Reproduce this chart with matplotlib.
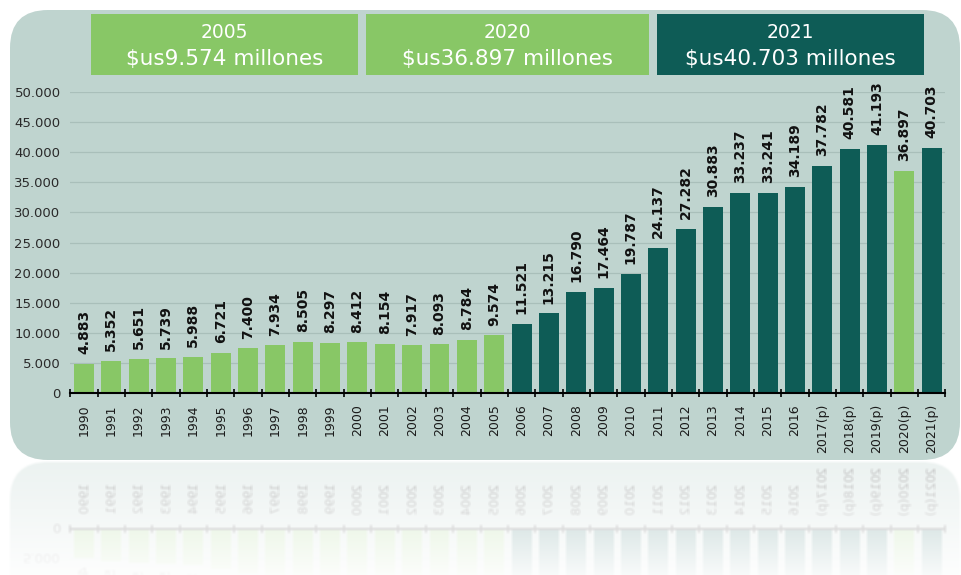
import matplotlib.pyplot as plt
import numpy as np
from matplotlib.patches import FancyBboxPatch, Rectangle
from matplotlib.ticker import FuncFormatter, MultipleLocator

plt.rcParams['font.family'] = ['DejaVu Sans']

# Exportaciones por año (millones de $us)
years = ["1990", "1991", "1992", "1993", "1994", "1995", "1996", "1997",
         "1998", "1999", "2000", "2001", "2002", "2003", "2004", "2005",
         "2006", "2007", "2008", "2009", "2010", "2011", "2012", "2013",
         "2014", "2015", "2016", "2017(p)", "2018(p)", "2019(p)", "2020(p)",
         "2021(p)"]
values = [4883, 5352, 5651, 5739, 5988, 6721, 7400, 7934,
          8505, 8297, 8412, 8154, 7917, 8093, 8784, 9574,
          11521, 13215, 16790, 17464, 19787, 24137, 27282, 30883,
          33237, 33241, 34189, 37782, 40581, 41193, 36897,
          40703]
highlight = ["1990", "1991", "1992", "1993", "1994", "1995", "1996", "1997",
             "1998", "1999", "2000", "2001", "2002", "2003", "2004", "2005",
             "2020(p)"]

header_years = ["2005", "2020", "2021"]
header_amounts = ["9.574", "36.897", "40.703"]

LIGHT = '#88c766'
DARK = '#0e5c56'
PANEL = '#bfd4cf'

W, H = 961, 575
fig = plt.figure(figsize=(W / 100, H / 100), dpi=100, facecolor='white')


def fmt(v, pos=None):
    return f"{int(v):,}".replace(",", ".")


# background layer in pixel coordinates
bg = fig.add_axes([0, 0, 1, 1])
bg.set_xlim(0, W)
bg.set_ylim(H, 0)
bg.axis('off')
bg.add_patch(FancyBboxPatch((10, 10), 950, 450,
                            boxstyle="round,pad=0,rounding_size=38",
                            fc=PANEL, ec='none'))

boxes = [(91, 267, LIGHT), (366, 283, LIGHT), (657, 267, DARK)]
for (x0, w, c), yr, amt in zip(boxes, header_years, header_amounts):
    bg.add_patch(Rectangle((x0, 14), w, 61, fc=c, ec='none'))
    bg.text(x0 + w / 2, 32, yr, color='white', fontsize=13.5,
            ha='center', va='center')
    bg.text(x0 + w / 2, 59, f"$us{amt} millones", color='white',
            fontsize=15.5, ha='center', va='center')

# bar chart
x_left, x_right, y_zero, y_top = 70.3, 945.4, 393, 92
ax = fig.add_axes([x_left / W, (H - y_zero) / H,
                   (x_right - x_left) / W, (y_zero - y_top) / H])
ax.patch.set_alpha(0)

x = np.arange(len(years))
colors = [LIGHT if y in highlight else DARK for y in years]
ax.bar(x, values, width=0.73, color=colors, zorder=3)

for xi, v in zip(x, values):
    ax.annotate(fmt(v), (xi, v), xytext=(0, 7), textcoords='offset points',
                rotation=90, ha='center', va='bottom', fontsize=10,
                fontweight='bold', color='#111111', annotation_clip=False)

ax.set_xlim(-0.5, len(years) - 0.5)
ax.set_ylim(0, 50000)
ax.yaxis.set_major_locator(MultipleLocator(5000))
ax.yaxis.set_major_formatter(FuncFormatter(fmt))
ax.grid(axis='y', color='#a9bfba', lw=0.9, zorder=1)

ax.set_xticks(x)
ax.set_xticklabels(years, rotation=90)
ax.set_xticks(np.arange(len(years) + 1) - 0.5, minor=True)
ax.tick_params(axis='x', which='major', length=0, pad=8, labelsize=9,
               labelcolor='#1a1a1a')
ax.tick_params(axis='x', which='minor', direction='inout', length=6,
               width=1.2, color='black')
ax.tick_params(axis='y', length=0, pad=7, labelsize=9.5,
               labelcolor='#2a2a2a')

for s in ['top', 'right', 'left']:
    ax.spines[s].set_visible(False)
ax.spines['bottom'].set_linewidth(1.5)
ax.spines['bottom'].set_color('black')
ax.spines['bottom'].set_zorder(4)

# faded mirror of the panel bottom
fig.canvas.draw()
img = np.asarray(fig.canvas.buffer_rgba())[:, :, :3].astype(float) / 255
top = 461
rows = np.arange(top, H)
src = img[921 - rows]
pad = np.pad(src, ((1, 1), (1, 1), (0, 0)), mode='edge')
n, m = src.shape[:2]
src = sum(pad[i:i + n, j:j + m] for i in range(3) for j in range(3)) / 9
alpha = np.linspace(0.3, 0.03, len(rows))[:, None, None]
refl = 1 - alpha * (1 - src)
fig.figimage(refl, xo=0, yo=0, origin='upper', zorder=10)

fig.savefig('out.png', dpi=100, facecolor='white')
